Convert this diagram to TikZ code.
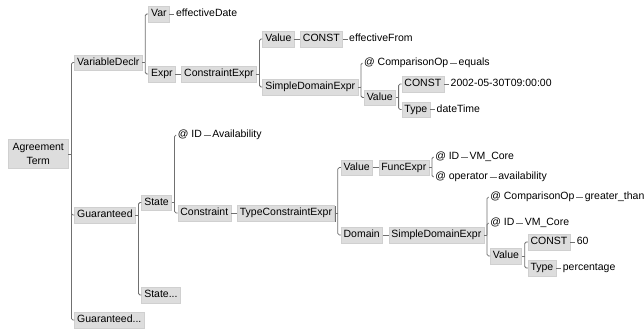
\documentclass[tikz,border=0pt]{standalone}
\usepackage{fontspec}
\setmainfont{Liberation Sans}
\usetikzlibrary{shadows}
\definecolor{boxfill}{HTML}{DDDDDD}
\definecolor{boxedge}{HTML}{D0D0D0}
\definecolor{boxshade}{HTML}{6E6E6E}
\definecolor{linecol}{HTML}{707070}
\begin{document}
\begin{tikzpicture}[x=1pt,y=-1pt,
  lbl/.style={font=\fontsize{10.5}{12}\selectfont, text height=7.6pt, text depth=2.2pt},
  el/.style={lbl, anchor=west, fill=boxfill, draw=boxedge, line width=0.4pt,
    inner xsep=2.6pt, inner ysep=0pt, minimum height=15.5pt,
    general shadow={fill=boxshade, shadow xshift=0.9pt, shadow yshift=-0.9pt}},
  rootbox/.style={anchor=west, fill=boxfill, draw=boxedge, line width=0.4pt,
    font=\fontsize{10.5}{14}\selectfont, align=center, inner sep=0pt,
    minimum width=60pt, minimum height=29pt,
    general shadow={fill=boxshade, shadow xshift=0.9pt, shadow yshift=-0.9pt}},
  txt/.style={lbl, anchor=west, inner xsep=1.5pt, inner ysep=0pt},
  link/.style={draw=linecol, line width=0.8pt},
  fork/.style={link, rounded corners=1.5pt}]

\fill[white] (0,0) rectangle (644,331);
\useasboundingbox (0,0) rectangle (644,331);

% root
\node[rootbox] (term) at (8,154) {Agreement\\Term};

% first level
\node[el, xshift=6pt] (vdecl) at (term.east |- 0,62.5) {VariableDeclr};
\node[el, xshift=6pt] (guar)  at (term.east |- 0,215) {Guaranteed};
\node[el, xshift=6pt] (guarm) at (term.east |- 0,320) {Guaranteed...};

% variable declaration
\node[el, xshift=6pt] (var)  at (vdecl.east |- 0,14) {Var};
\node[txt, xshift=5pt] (effdate) at (var.east) {effectiveDate};
\node[el, xshift=6pt] (expr) at (vdecl.east |- 0,74) {Expr};
\node[el, xshift=6pt] (cexpr) at (expr.east) {ConstraintExpr};
\node[el, xshift=6pt] (val1) at (cexpr.east |- 0,39) {Value};
\node[el, xshift=6pt] (const1) at (val1.east) {CONST};
\node[txt, xshift=5pt] (efffrom) at (const1.east) {effectiveFrom};
\node[el, xshift=6pt] (sde1) at (cexpr.east |- 0,87) {SimpleDomainExpr};
\node[txt, xshift=4.5pt] (cmp1) at (sde1.east |- 0,63) {@ ComparisonOp};
\node[txt, xshift=7pt] (cmp1v) at (cmp1.east) {equals};
\node[el, xshift=6pt] (val2) at (sde1.east |- 0,97.5) {Value};
\node[el, xshift=6pt] (const2) at (val2.east |- 0,84) {CONST};
\node[txt, xshift=5pt] (date) at (const2.east) {2002-05-30T09:00:00};
\node[el, xshift=6pt] (type2) at (val2.east |- 0,109.5) {Type};
\node[txt, xshift=5pt] (dtype) at (type2.east) {dateTime};

% guaranteed state
\node[el, xshift=6pt] (state)  at (guar.east |- 0,202.5) {State};
\node[el, xshift=6pt] (statem) at (guar.east |- 0,295) {State...};
\node[txt, xshift=4.5pt] (id1) at (state.east |- 0,135) {@ ID};
\node[txt, xshift=7pt] (id1v) at (id1.east) {Availability};
\node[el, xshift=6pt] (constr) at (state.east |- 0,213) {Constraint};
\node[el, xshift=6pt] (tce) at (constr.east) {TypeConstraintExpr};
\node[el, xshift=6pt] (val3) at (tce.east |- 0,167.5) {Value};
\node[el, xshift=6pt] (fexpr) at (val3.east) {FuncExpr};
\node[txt, xshift=4.5pt] (id2) at (fexpr.east |- 0,157) {@ ID};
\node[txt, xshift=7pt] (id2v) at (id2.east) {VM\_Core};
\node[txt, xshift=4.5pt] (op) at (fexpr.east |- 0,177) {@ operator};
\node[txt, xshift=7pt] (opv) at (op.east) {availability};
\node[el, xshift=6pt] (dom) at (tce.east |- 0,235) {Domain};
\node[el, xshift=6pt] (sde2) at (dom.east) {SimpleDomainExpr};
\node[txt, xshift=4.5pt] (cmp2) at (sde2.east |- 0,197) {@ ComparisonOp};
\node[txt, xshift=7pt] (cmp2v) at (cmp2.east) {greater\_than};
\node[txt, xshift=4.5pt] (id3) at (sde2.east |- 0,223) {@ ID};
\node[txt, xshift=7pt] (id3v) at (id3.east) {VM\_Core};
\node[el, xshift=6pt] (val4) at (sde2.east |- 0,256) {Value};
\node[el, xshift=6pt] (const4) at (val4.east |- 0,242) {CONST};
\node[txt, xshift=5pt] (sixty) at (const4.east) {60};
\node[el, xshift=6pt] (type4) at (val4.east |- 0,268) {Type};
\node[txt, xshift=5pt] (pct) at (type4.east) {percentage};

% stubs from parents with several children
\foreach \p in {term, vdecl, cexpr, sde1, val2, guar, state, tce, fexpr, sde2, val4}
  \draw[link] (\p.east) -- ++(3pt,0);

% branches from the vertical bars
\foreach \p/\c in {term/vdecl, term/guar, term/guarm, vdecl/var, vdecl/expr,
    cexpr/val1, cexpr/sde1, sde1/cmp1, sde1/val2, val2/const2, val2/type2,
    guar/state, guar/statem, state/id1, state/constr, tce/val3, tce/dom,
    fexpr/id2, fexpr/op, sde2/cmp2, sde2/id3, sde2/val4, val4/const4, val4/type4}
  \draw[fork] ([xshift=3pt]\p.east) |- (\c.west);

% single links
\foreach \a/\b in {var/effdate, expr/cexpr, val1/const1, const1/efffrom, cmp1/cmp1v,
    const2/date, type2/dtype, id1/id1v, constr/tce, val3/fexpr, id2/id2v, op/opv,
    dom/sde2, cmp2/cmp2v, id3/id3v, const4/sixty, type4/pct}
  \draw[link] (\a.east) -- (\b.west);
\end{tikzpicture}
\end{document}
